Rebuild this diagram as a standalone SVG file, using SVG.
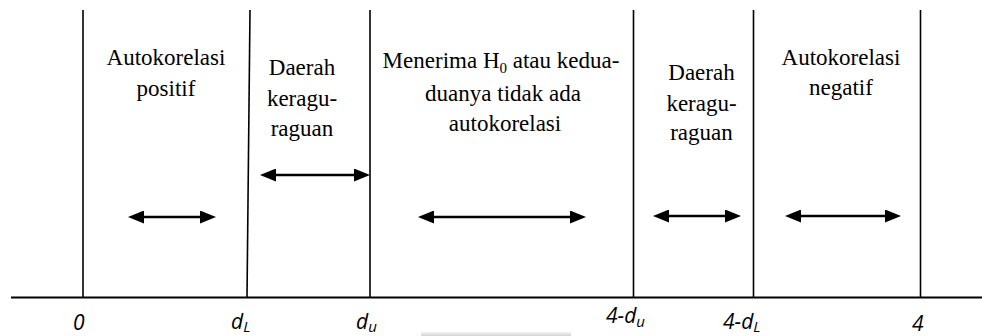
<svg xmlns="http://www.w3.org/2000/svg" width="982" height="336" viewBox="0 0 982 336">
  <style>
    .bound { stroke: #000; stroke-width: 1.6; fill: none; }
    .axis { stroke: #000; stroke-width: 2.2; fill: none; }
    .span { stroke: #000; stroke-width: 2.5; fill: none; marker-start: url(#head); marker-end: url(#head); }
    .zone { font-family: "Liberation Serif", "Times New Roman", serif; font-size: 23px; fill: #000; text-anchor: middle; }
    .tick { font-family: "Open Sans", "Liberation Sans", sans-serif; font-style: italic; font-size: 21px; fill: #000; }
    .sub { font-size: 15px; }
  </style>
  <defs>
    <marker id="head" viewBox="0 0 16 13" refX="5" refY="6.5" markerWidth="16" markerHeight="13" markerUnits="userSpaceOnUse" orient="auto-start-reverse">
      <path d="M0,0 L16,6.5 L0,13 z" fill="#000"/>
    </marker>
    <linearGradient id="smudge" x1="0" y1="0" x2="0" y2="1">
      <stop offset="0" stop-color="#f2f2f2"/>
      <stop offset="1" stop-color="#d4d4d4"/>
    </linearGradient>
  </defs>

  <!-- faint grey band along the bottom edge -->
  <rect x="421" y="332" width="150" height="4" fill="url(#smudge)"/>

  <!-- number line and region boundaries -->
  <g id="axis">
    <line class="axis" x1="11" y1="297.5" x2="982" y2="297.5"/>
    <line class="bound" x1="83" y1="10" x2="83" y2="297"/>
    <line class="bound" x1="250" y1="10" x2="247" y2="297"/>
    <line class="bound" x1="370" y1="10" x2="370" y2="297"/>
    <line class="bound" x1="633.5" y1="10" x2="633.5" y2="297"/>
    <line class="bound" x1="753.5" y1="10" x2="753.5" y2="297"/>
    <line class="bound" x1="920.5" y1="10" x2="920.5" y2="297"/>
  </g>

  <!-- double-headed range arrows -->
  <g id="connectors">
    <line class="span" x1="139" y1="217" x2="205" y2="217"/>
    <line class="span" x1="271" y1="175" x2="359" y2="175"/>
    <line class="span" x1="429" y1="217" x2="575" y2="217"/>
    <line class="span" x1="664" y1="216" x2="730" y2="216"/>
    <line class="span" x1="796" y1="216" x2="890" y2="216"/>
  </g>

  <g id="zone-positive">
    <text class="zone" x="166" y="65">Autokorelasi</text>
    <text class="zone" x="166" y="96">positif</text>
  </g>

  <g id="zone-doubt-lower">
    <text class="zone" x="302" y="75">Daerah</text>
    <text class="zone" x="302" y="106">keragu-</text>
    <text class="zone" x="302" y="136">raguan</text>
  </g>

  <g id="zone-accept">
    <text class="zone" x="501" y="68">Menerima H<tspan font-size="15" dy="5">0</tspan><tspan dy="-5"> atau kedua-</tspan></text>
    <text class="zone" x="503" y="101">duanya tidak ada</text>
    <text class="zone" x="505" y="131">autokorelasi</text>
  </g>

  <g id="zone-doubt-upper">
    <text class="zone" x="701.5" y="80">Daerah</text>
    <text class="zone" x="701.5" y="111">keragu-</text>
    <text class="zone" x="701.5" y="140">raguan</text>
  </g>

  <g id="zone-negative">
    <text class="zone" x="841" y="65">Autokorelasi</text>
    <text class="zone" x="841" y="95">negatif</text>
  </g>

  <!-- tick labels -->
  <g id="ticks">
    <text class="tick" x="73" y="330">0</text>
    <text class="tick" x="231" y="329">d<tspan class="sub" dy="3">L</tspan></text>
    <text class="tick" x="356" y="329">d<tspan class="sub" dy="3">u</tspan></text>
    <text class="tick" x="606" y="322.5">4-d<tspan class="sub" dy="4">u</tspan></text>
    <text class="tick" x="723" y="329">4-d<tspan class="sub" dy="3">L</tspan></text>
    <text class="tick" x="912" y="331">4</text>
  </g>
</svg>
